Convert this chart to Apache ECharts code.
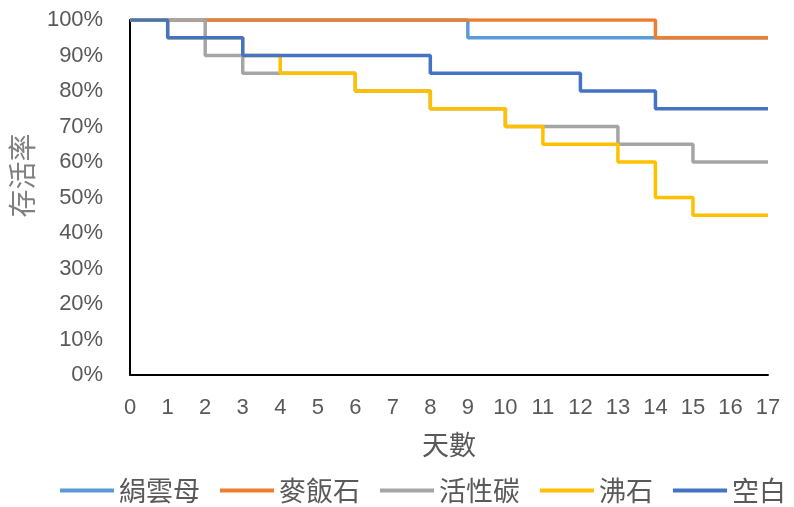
<!DOCTYPE html>
<html>
<head>
<meta charset="utf-8">
<script src="https://cdn.jsdelivr.net/npm/echarts@6/dist/echarts.min.js"></script>
<style>
  html, body { margin: 0; padding: 0; background: #fff; }
  #chart { width: 794px; height: 507px; }
</style>
</head>
<body>
<div id="chart"></div>
<script>
/* ── Data ── */
const DAYS = [0, 1, 2, 3, 4, 5, 6, 7, 8, 9, 10, 11, 12, 13, 14, 15, 16, 17];
const SERICITE   = [100, 100, 100, 100, 100, 100, 100, 100, 100, 95, 95, 95, 95, 95, 95, 95, 95, 95];   // 絹雲母
const MAIFAN     = [100, 100, 100, 100, 100, 100, 100, 100, 100, 100, 100, 100, 100, 100, 95, 95, 95, 95]; // 麥飯石
const CHARCOAL   = [100, 100, 90, 85, 85, 85, 80, 80, 75, 75, 70, 70, 70, 65, 65, 60, 60, 60];          // 活性碳
const ZEOLITE    = [100, 95, 95, 90, 85, 85, 80, 80, 75, 75, 70, 65, 65, 60, 50, 45, 45, 45];           // 沸石
const CONTROL    = [100, 95, 95, 90, 90, 90, 90, 90, 85, 85, 85, 85, 80, 80, 75, 75, 75, 75];           // 空白

const SERIES = [
  { name: '絹雲母', values: SERICITE, color: '#5B9BD5' },
  { name: '麥飯石', values: MAIFAN,   color: '#ED7D31' },
  { name: '活性碳', values: CHARCOAL, color: '#A5A5A5' },
  { name: '沸石',   values: ZEOLITE,  color: '#FFC000' },
  { name: '空白',   values: CONTROL,  color: '#4472C4' },
];

const LATIN = '"Liberation Sans", "Noto Sans CJK TC", sans-serif';
const CJK = '"Noto Sans CJK TC", sans-serif';

const chart = echarts.init(document.getElementById('chart'), null, { renderer: 'canvas' });

chart.setOption({
  animation: false,
  grid: { left: 127, right: 26, top: 20, bottom: 132 },
  legend: {
    left: 55,
    top: 472,
    icon: 'rect',
    itemWidth: 54,
    itemHeight: 4,
    itemGap: 20,
    textStyle: { fontSize: 27, color: '#595959', fontFamily: CJK },
    data: SERIES.map(s => s.name),
  },
  xAxis: {
    type: 'value',
    min: 0,
    max: 17,
    interval: 1,
    name: '天數',
    nameLocation: 'middle',
    nameGap: 56,
    nameTextStyle: { fontSize: 27, color: '#595959', fontFamily: CJK },
    axisLine: { show: true, lineStyle: { color: '#000', width: 2 } },
    axisTick: { show: false },
    axisLabel: { fontSize: 22, color: '#595959', margin: 22, fontFamily: LATIN },
    splitLine: { show: false },
  },
  yAxis: {
    type: 'value',
    min: 0,
    max: 100,
    interval: 10,
    name: '存活率',
    nameLocation: 'middle',
    nameGap: 88,
    nameTextStyle: { fontSize: 28, color: '#7F7F7F', fontFamily: CJK, padding: [0, 0, 0, 44] },
    axisLine: { show: true, lineStyle: { color: '#000', width: 2 } },
    axisTick: { show: false },
    axisLabel: { fontSize: 22, color: '#595959', margin: 27, formatter: '{value}%', fontFamily: LATIN },
    splitLine: { show: false },
  },
  series: SERIES.map(s => ({
    name: s.name,
    type: 'line',
    step: 'end',
    symbol: 'none',
    data: DAYS.map((d, i) => [d, s.values[i]]),
    lineStyle: { color: s.color, width: 3.5 },
    itemStyle: { color: s.color },
  })),
});
</script>
</body>
</html>
